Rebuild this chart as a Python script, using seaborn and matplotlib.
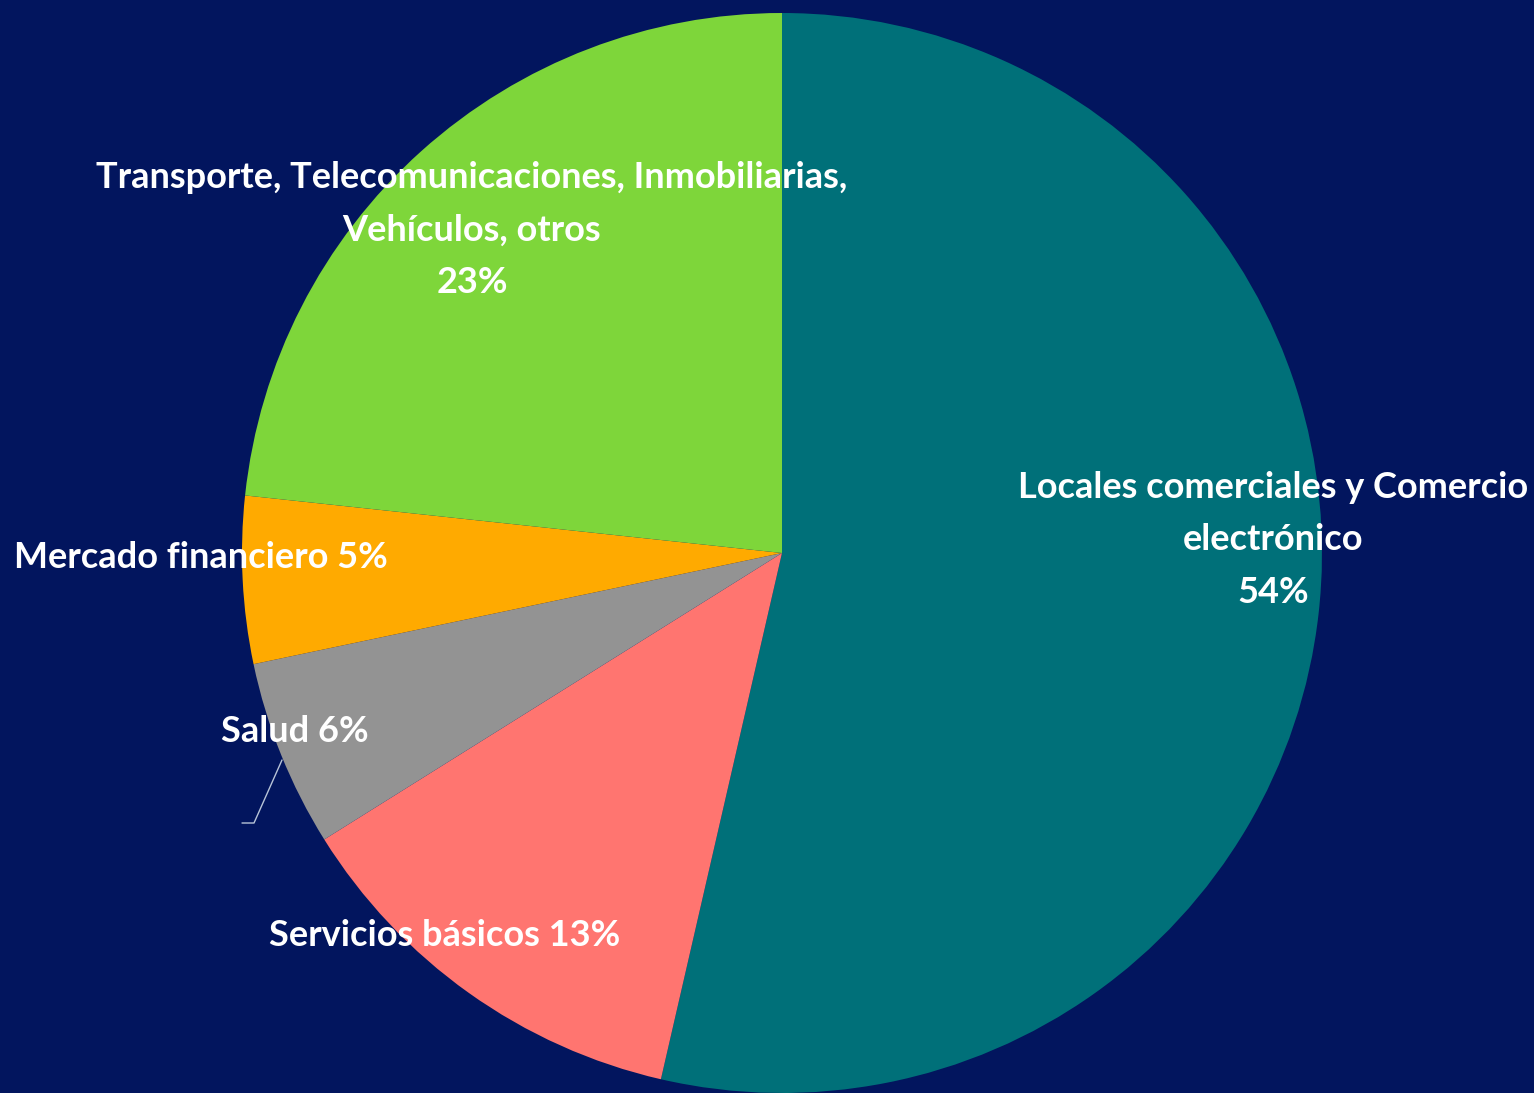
"""Pie chart: distribución de reclamos por sector."""

import matplotlib
matplotlib.use("Agg")
import matplotlib.pyplot as plt
import seaborn as sns

# Data
sectors = [
    "Locales comerciales y Comercio\nelectrónico",
    "Servicios básicos",
    "Salud",
    "Mercado financiero",
    "Transporte, Telecomunicaciones, Inmobiliarias,\nVehículos, otros",
]
shares = [53.6, 12.5, 5.6, 5.0, 23.3]
pct_labels = ["54%", "13%", "6%", "5%", "23%"]
colors = ["#007079", "#FF7570", "#939393", "#FFAA00", "#7ED63A"]

BG = "#02155E"

sns.set_theme(style="white")
plt.rcParams["font.family"] = ["Lato", "DejaVu Sans"]

W, H = 1534, 1093
cx, cy, R = 782, 553, 540  # pie centre / radius in pixels

fig = plt.figure(figsize=(W / 100, H / 100), dpi=100, facecolor=BG)
ax = fig.add_axes([0, 0, 1, 1])
ax.set_facecolor(BG)

wedges, _ = ax.pie(
    shares,
    colors=sns.color_palette(colors),
    startangle=90,
    counterclock=False,
    radius=1.0,
    wedgeprops={"linewidth": 0},
)

ax.set_xlim(-cx / R, (W - cx) / R)
ax.set_ylim(-(H - cy) / R, cy / R)
ax.set_aspect("auto")
ax.axis("off")


def px(x, y):
    """pixel position -> data coords"""
    return (x - cx) / R, (cy - y) / R


# label positions (pixel centres in the reference)
label_pos = [(1273, 540), (445, 935), (295, 731), (201, 558), (472, 230)]
multiline = [True, False, False, False, True]

for name, pct, pos, ml in zip(sectors, pct_labels, label_pos, multiline):
    text = f"{name}\n{pct}" if ml else f"{name} {pct}"
    ax.text(*px(*pos), text, ha="center", va="center", color="white",
            fontsize=26, fontweight="bold", linespacing=1.72)

# leader line for Salud
lx, ly = zip(px(282, 760), px(254, 823), px(242, 823))
ax.plot(lx, ly, color="#B8C4D8", linewidth=1.0)

fig.savefig("out.png", dpi=100, facecolor=BG)
plt.close(fig)
